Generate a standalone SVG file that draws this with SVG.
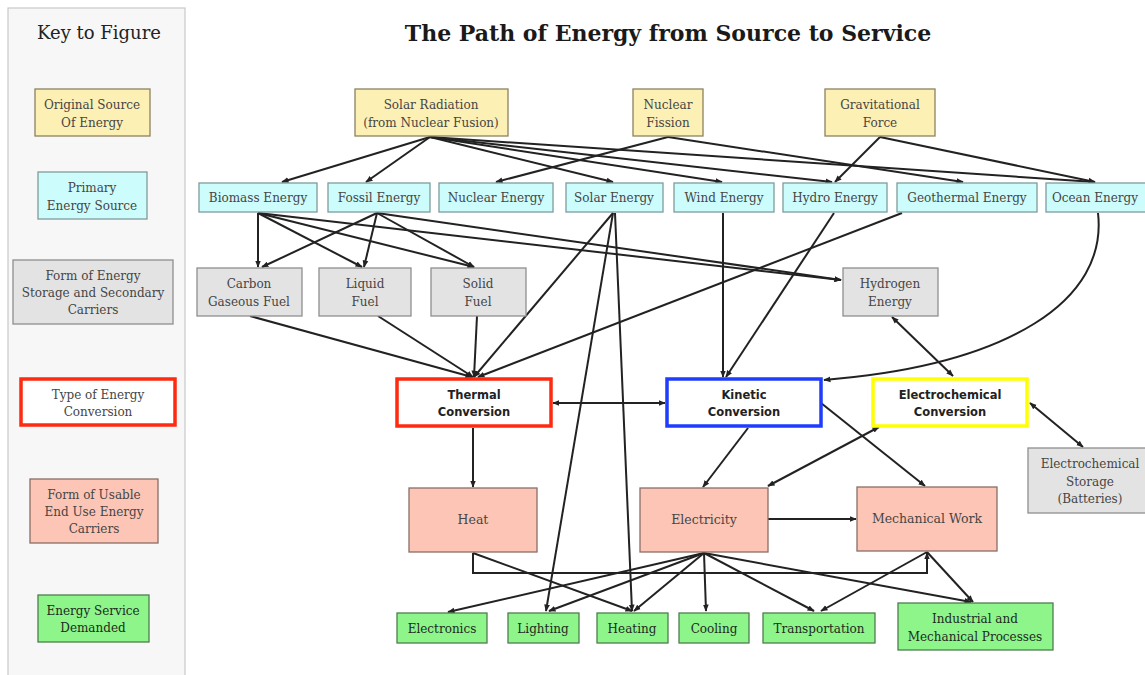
<svg xmlns="http://www.w3.org/2000/svg" width="1145" height="675" viewBox="0 0 1145 675">
<defs>
<marker id="ah" viewBox="0 0 10 10" refX="9" refY="5" markerWidth="3.6" markerHeight="3.6" orient="auto-start-reverse"><path d="M0,1 L10,5 L0,9 z" fill="#222"/></marker>
<style>
.t{font-family:"DejaVu Serif","Liberation Serif",serif;font-size:12px;fill:#454545;text-anchor:middle}
.tb{font-family:"DejaVu Sans","Liberation Sans",sans-serif;font-size:11.5px;font-weight:bold;fill:#222;text-anchor:middle}
.src{fill:#fdf0b4;stroke:#8c8260;stroke-width:1.3}
.pri{fill:#cdfcfc;stroke:#7f9c9c;stroke-width:1.3}
.sec{fill:#e3e3e3;stroke:#8f8f8f;stroke-width:1.3}
.use{fill:#fdc5b5;stroke:#8a6e66;stroke-width:1.3}
.svc{fill:#8ef58b;stroke:#4f7d4f;stroke-width:1.3}
.conv{fill:#fff;stroke-width:3.5}
.c{fill:none;stroke:#222;stroke-width:2;marker-end:url(#ah)}
.cb{fill:none;stroke:#222;stroke-width:2;marker-end:url(#ah);marker-start:url(#ah)}
</style>
</defs>
<rect width="1145" height="675" fill="#fff"/>

<g id="key">
<rect x="8" y="8" width="177" height="672" fill="#f7f7f7" stroke="#c8c8c8" stroke-width="1.2"/>
<text x="99" y="39" class="t" style="font-size:18px;fill:#222">Key to Figure</text>
<g id="key-source"><rect x="35" y="89" width="115" height="47" class="src"/><text x="92" y="109" class="t">Original Source</text><text x="92" y="127" class="t">Of Energy</text></g>
<g id="key-primary"><rect x="38" y="172" width="109" height="47" class="pri"/><text x="92" y="192" class="t">Primary</text><text x="92" y="210" class="t">Energy Source</text></g>
<g id="key-storage"><rect x="13" y="260" width="160" height="64" class="sec"/><text x="93" y="280" class="t">Form of Energy</text><text x="93" y="297" class="t">Storage and Secondary</text><text x="93" y="314" class="t">Carriers</text></g>
<g id="key-conversion"><rect x="21" y="379" width="154" height="46" class="conv" stroke="#ff2a10"/><text x="98" y="399" class="t">Type of Energy</text><text x="98" y="416" class="t">Conversion</text></g>
<g id="key-usable"><rect x="30" y="479" width="128" height="64" class="use"/><text x="94" y="499" class="t">Form of Usable</text><text x="94" y="516" class="t">End Use Energy</text><text x="94" y="533" class="t">Carriers</text></g>
<g id="key-service"><rect x="38" y="595" width="111" height="47" class="svc"/><text x="93" y="615" class="t" style="fill:#1d2a1d">Energy Service</text><text x="93" y="632" class="t" style="fill:#1d2a1d">Demanded</text></g>
</g>

<text x="668" y="41" class="t" style="font-size:22px;font-weight:bold;fill:#1a1a1a">The Path of Energy from Source to Service</text>

<g id="connectors">
<path class="c" d="M430,137 L282,182"/>
<path class="c" d="M430,137 L366,182"/>
<path class="c" d="M430,137 L613,182"/>
<path class="c" d="M430,137 L722,182"/>
<path class="c" d="M430,137 L832,182"/>
<path class="c" d="M430,137 L1095,182"/>
<path class="c" d="M668,137 L496,182"/>
<path class="c" d="M668,137 L963,182"/>
<path class="c" d="M880,137 L835,182"/>
<path class="c" d="M880,137 L1095,182"/>

<path class="c" d="M258,213 L258,267"/>
<path class="c" d="M258,213 L362,267"/>
<path class="c" d="M258,213 L474,267"/>
<path class="c" d="M258,213 L841,280"/>
<path class="c" d="M377,213 L262,267"/>
<path class="c" d="M377,213 L364,267"/>
<path class="c" d="M377,213 L474,267"/>
<path class="c" d="M377,213 L841,280"/>

<path class="c" d="M613,213 L474,377"/>
<path class="c" d="M613,213 L546,611"/>
<path class="c" d="M615,213 L632,611"/>
<path class="c" d="M723,213 L723,377"/>
<path class="c" d="M834,213 L726,377"/>
<path class="c" d="M902,213 L478,377"/>
<path class="c" d="M1098,213 C1108,300 1010,365 824,380"/>

<path class="c" d="M250,316 L472,377"/>
<path class="c" d="M378,316 L473,377"/>
<path class="c" d="M477,316 L474,377"/>

<path class="cb" d="M892,317 L953,376"/>
<path class="cb" d="M553,403 L665,403"/>
<path class="c" d="M473,428 L473,487"/>
<path class="c" d="M748,428 L703,487"/>
<path class="c" d="M821,403 L925,486"/>
<path class="cb" d="M879,427 L768,486"/>
<path class="cb" d="M1030,403 L1083,447"/>
<path class="c" d="M768,519 L856,519"/>

<path class="c" d="M473,553 L473,573 L927,573 L927,553"/>
<path class="c" d="M473,553 L632,611"/>
<path class="c" d="M704,553 L448,612"/>
<path class="c" d="M704,553 L549,611"/>
<path class="c" d="M704,553 L634,611"/>
<path class="c" d="M704,553 L706,611"/>
<path class="c" d="M704,553 L814,611"/>
<path class="c" d="M704,553 L971,602"/>
<path class="c" d="M927,552 L821,611"/>
<path class="c" d="M927,552 L973,602"/>
</g>

<g id="solar-radiation"><rect x="355" y="89" width="153" height="47" class="src"/><text x="431" y="109" class="t">Solar Radiation</text><text x="431" y="127" class="t">(from Nuclear Fusion)</text></g>
<g id="nuclear-fission"><rect x="633" y="89" width="70" height="47" class="src"/><text x="668" y="109" class="t">Nuclear</text><text x="668" y="127" class="t">Fission</text></g>
<g id="gravitational-force"><rect x="825" y="89" width="110" height="47" class="src"/><text x="880" y="109" class="t">Gravitational</text><text x="880" y="127" class="t">Force</text></g>

<g id="biomass"><rect x="199" y="183" width="118" height="29" class="pri"/><text x="258" y="202" class="t">Biomass Energy</text></g>
<g id="fossil"><rect x="328" y="183" width="102" height="29" class="pri"/><text x="379" y="202" class="t">Fossil Energy</text></g>
<g id="nuclear"><rect x="439" y="183" width="114" height="29" class="pri"/><text x="496" y="202" class="t">Nuclear Energy</text></g>
<g id="solar"><rect x="566" y="183" width="97" height="29" class="pri"/><text x="614" y="202" class="t">Solar Energy</text></g>
<g id="wind"><rect x="674" y="183" width="100" height="29" class="pri"/><text x="724" y="202" class="t">Wind Energy</text></g>
<g id="hydro"><rect x="783" y="183" width="104" height="29" class="pri"/><text x="835" y="202" class="t">Hydro Energy</text></g>
<g id="geothermal"><rect x="897" y="183" width="140" height="29" class="pri"/><text x="967" y="202" class="t">Geothermal Energy</text></g>
<g id="ocean"><rect x="1046" y="183" width="105" height="29" class="pri"/><text x="1095" y="202" class="t">Ocean Energy</text></g>

<g id="carbon-gaseous"><rect x="197" y="268" width="105" height="48" class="sec"/><text x="249" y="288" class="t">Carbon</text><text x="249" y="306" class="t">Gaseous Fuel</text></g>
<g id="liquid-fuel"><rect x="319" y="268" width="92" height="48" class="sec"/><text x="365" y="288" class="t">Liquid</text><text x="365" y="306" class="t">Fuel</text></g>
<g id="solid-fuel"><rect x="431" y="268" width="95" height="48" class="sec"/><text x="478" y="288" class="t">Solid</text><text x="478" y="306" class="t">Fuel</text></g>
<g id="hydrogen"><rect x="843" y="268" width="95" height="48" class="sec"/><text x="890" y="288" class="t">Hydrogen</text><text x="890" y="306" class="t">Energy</text></g>

<g id="thermal"><rect x="397" y="379" width="154" height="47" class="conv" stroke="#ff2a10"/><text x="474" y="399" class="tb">Thermal</text><text x="474" y="416" class="tb">Conversion</text></g>
<g id="kinetic"><rect x="667" y="379" width="154" height="47" class="conv" stroke="#1f3cff"/><text x="744" y="399" class="tb">Kinetic</text><text x="744" y="416" class="tb">Conversion</text></g>
<g id="electrochemical"><rect x="873" y="379" width="154" height="47" class="conv" stroke="#ffff00"/><text x="950" y="399" class="tb">Electrochemical</text><text x="950" y="416" class="tb">Conversion</text></g>
<g id="batteries"><rect x="1028" y="448" width="120" height="65" class="sec"/><text x="1090" y="468" class="t">Electrochemical</text><text x="1090" y="486" class="t">Storage</text><text x="1090" y="503" class="t">(Batteries)</text></g>

<g id="heat"><rect x="409" y="488" width="128" height="64" class="use"/><text x="473" y="524" class="t" style="font-size:12.5px">Heat</text></g>
<g id="electricity"><rect x="640" y="488" width="128" height="64" class="use"/><text x="704" y="524" class="t" style="font-size:12.5px">Electricity</text></g>
<g id="mechanical-work"><rect x="857" y="487" width="140" height="64" class="use"/><text x="927" y="523" class="t" style="font-size:12.5px">Mechanical Work</text></g>

<g id="electronics"><rect x="397" y="613" width="90" height="30" class="svc"/><text x="442" y="633" class="t" style="fill:#1d2a1d">Electronics</text></g>
<g id="lighting"><rect x="508" y="613" width="71" height="30" class="svc"/><text x="543" y="633" class="t" style="fill:#1d2a1d">Lighting</text></g>
<g id="heating"><rect x="597" y="613" width="71" height="30" class="svc"/><text x="632" y="633" class="t" style="fill:#1d2a1d">Heating</text></g>
<g id="cooling"><rect x="679" y="613" width="70" height="30" class="svc"/><text x="714" y="633" class="t" style="fill:#1d2a1d">Cooling</text></g>
<g id="transportation"><rect x="763" y="613" width="112" height="30" class="svc"/><text x="819" y="633" class="t" style="fill:#1d2a1d">Transportation</text></g>
<g id="industrial"><rect x="898" y="603" width="155" height="47" class="svc"/><text x="975" y="623" class="t" style="fill:#1d2a1d">Industrial and</text><text x="975" y="641" class="t" style="fill:#1d2a1d">Mechanical Processes</text></g>
</svg>
